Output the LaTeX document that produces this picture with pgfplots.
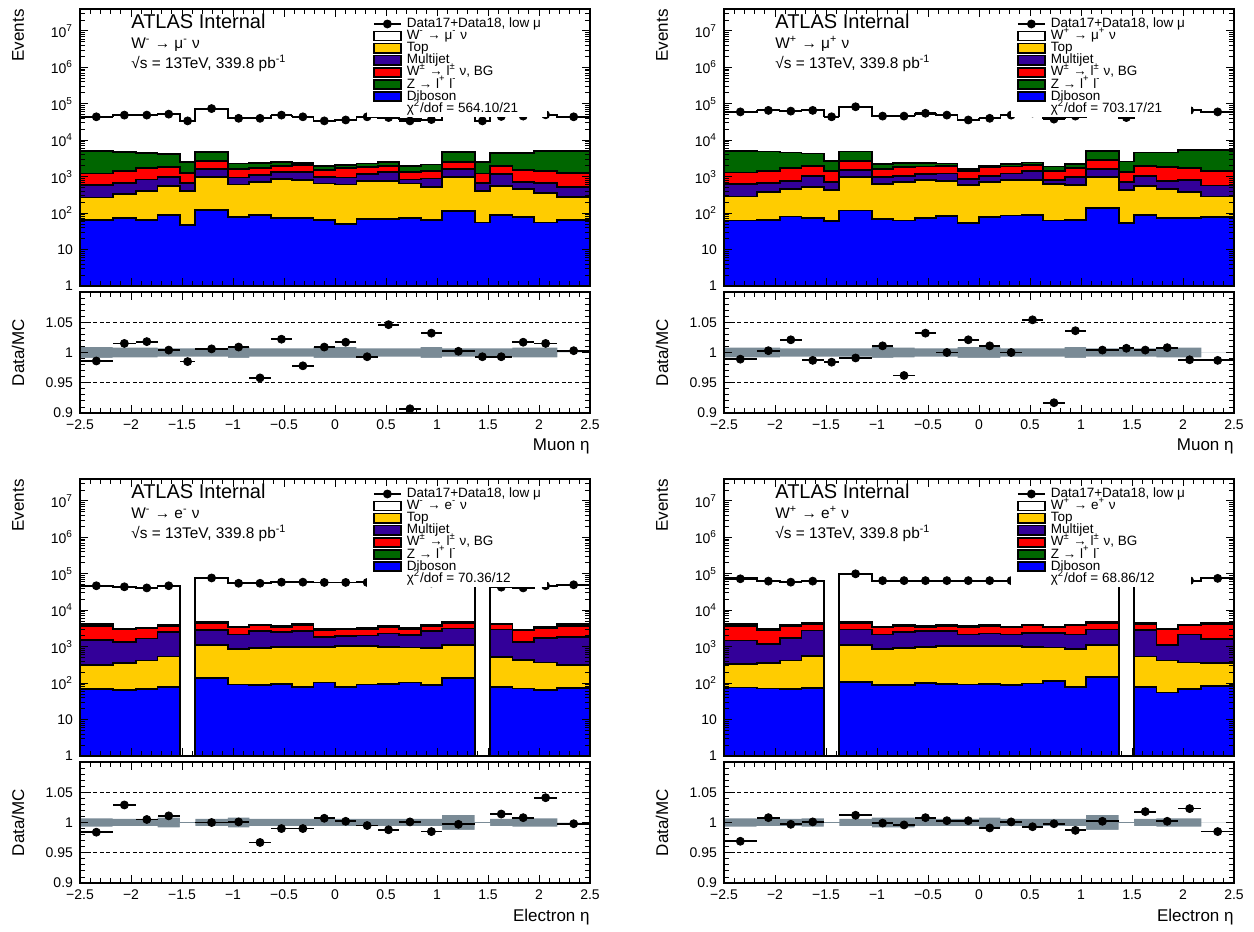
\documentclass[border=0pt]{standalone}
\usepackage{fontspec}
\setmainfont{Liberation Sans}
\usepackage{pgfplots}
\pgfplotsset{compat=1.18}
\usepackage{pgfplotstable}

\definecolor{topc}{RGB}{255,204,0}
\definecolor{mjc}{RGB}{51,0,153}
\definecolor{wbgc}{RGB}{255,0,0}
\definecolor{zc}{RGB}{0,102,0}
\definecolor{dbc}{RGB}{0,0,255}
\definecolor{bandc}{RGB}{122,139,150}

% ---------- W- -> mu- nu ----------
\pgfplotstableread{
x tot z wbg mj top db bw
-2.50 44600 5130 1230 590 270 65 0.009
-2.18 48300 4800 1450 680 334 72 0.008
-1.95 48100 4360 1690 840 410 65 0.008
-1.74 51800 4170 1870 1000 550 88 0.007
-1.52 34500 2560 1290 680 410 47 0.007
-1.37 73600 4800 2750 1590 1000 121 0.007
-1.05 39600 2300 1590 955 614 80 0.009
-0.84 41800 2400 1760 1100 730 88 0.007
-0.63 47900 2500 1960 1320 860 75 0.007
-0.42 45000 2400 2090 1365 810 72 0.007
-0.21 33700 2000 1520 1000 650 65 0.009
0.00 35400 2090 1690 955 614 50 0.009
0.21 44300 2300 1870 1170 780 69 0.007
0.42 40200 2560 2000 1365 780 69 0.007
0.63 37500 2000 1370 840 650 72 0.007
0.84 35900 2170 1450 890 510 65 0.009
1.05 65900 4800 2560 1590 1000 116 0.007
1.37 34200 2560 1230 680 410 55 0.007
1.52 45300 4360 1960 1170 565 88 0.007
1.74 45200 4360 1520 730 460 80 0.008
1.95 49300 5130 1450 680 360 55 0.008
2.18 43900 5130 1290 530 280 65 0
2.50 43900 5130 1290 530 280 65 0
}\hA
\pgfplotstableread{
xc ex data ratio
-2.34 0.16 44000 0.986
-2.065 0.115 49000 1.015
-1.845 0.105 49000 1.018
-1.63 0.11 52000 1.004
-1.445 0.075 34000 0.985
-1.21 0.16 74000 1.006
-0.945 0.105 40000 1.009
-0.735 0.105 40000 0.958
-0.525 0.105 49000 1.022
-0.315 0.105 44000 0.978
-0.105 0.105 34000 1.009
0.105 0.105 36000 1.017
0.315 0.105 44000 0.993
0.525 0.105 42000 1.046
0.735 0.105 34000 0.907
0.945 0.105 37000 1.032
1.21 0.16 66000 1.002
1.445 0.075 34000 0.993
1.63 0.11 45000 0.993
1.845 0.105 46000 1.017
2.065 0.115 50000 1.015
2.34 0.16 44000 1.003
}\pA

% ---------- W+ -> mu+ nu ----------
\pgfplotstableread{
x tot z wbg mj top db bw
-2.50 60700 5100 1310 630 285 63 0.008
-2.18 65800 4900 1460 658 374 66 0.008
-1.95 61700 4610 1720 780 461 81 0.007
-1.74 66900 4330 2000 1065 533 75 0.007
-1.52 44700 2730 1400 700 433 61 0.007
-1.37 83800 4900 2730 1520 960 118 0.007
-1.05 45500 2220 1620 960 630 70 0.009
-0.84 47800 2360 1800 1065 700 63 0.008
-0.63 53300 2360 1910 1180 810 73 0.007
-0.42 49000 2310 2000 1230 780 83 0.007
-0.21 35300 1620 1400 863 605 53 0.009
0.00 39600 2000 1800 1065 700 78 0.009
0.21 49000 2220 1910 1230 810 86 0.007
0.42 53100 2460 2080 1400 810 90 0.007
0.63 41400 1910 1400 810 630 63 0.007
0.84 44400 2220 1690 960 590 64 0.009
1.05 79700 5100 2910 1620 1000 140 0.007
1.37 41700 2620 1370 700 433 53 0.007
1.52 64700 4610 2000 1065 556 90 0.007
1.74 64500 4610 1800 780 452 75 0.008
1.95 66800 5450 1720 830 380 72 0.008
2.18 60800 5340 1460 570 285 78 0
2.50 60800 5340 1460 570 285 78 0
}\hB
\pgfplotstableread{
xc ex data ratio
-2.34 0.16 60000 0.989
-2.065 0.115 66000 1.003
-1.845 0.105 63000 1.021
-1.63 0.11 66000 0.987
-1.445 0.075 44000 0.984
-1.21 0.16 83000 0.991
-0.945 0.105 46000 1.011
-0.735 0.105 46000 0.962
-0.525 0.105 55000 1.032
-0.315 0.105 49000 1.000
-0.105 0.105 36000 1.021
0.105 0.105 40000 1.011
0.315 0.105 49000 1.000
0.525 0.105 56000 1.054
0.735 0.105 38000 0.917
0.945 0.105 46000 1.036
1.21 0.16 80000 1.004
1.445 0.075 42000 1.007
1.63 0.11 65000 1.004
1.845 0.105 65000 1.008
2.065 0.115 66000 0.988
2.34 0.16 60000 0.987
}\pB

% ---------- W- -> e- nu ----------
\pgfplotstableread{
x tot z wbg mj top db bw
-2.50 47800 4100 3670 1565 316 68 0.007
-2.18 42800 3150 2970 1350 352 64 0.006
-1.95 40800 3350 3160 1670 417 68 0.006
-1.74 46500 3900 3670 2550 537 79 0.008
-1.52 0.1 0.1 0.1 0.1 0.1 0.1 0
-1.37 77000 4800 4540 2840 1090 141 0.006
-1.05 54900 3600 3440 2150 861 92 0.008
-0.84 56900 4000 3830 2670 918 88 0.006
-0.63 59600 3700 3520 2500 980 94 0.006
-0.42 59600 4100 3920 2670 980 79 0.006
-0.21 57600 3000 2840 1820 980 104 0.006
0.00 57900 3100 2970 1940 1020 79 0.006
0.21 58300 3250 3090 2020 1020 92 0.006
0.42 58700 3700 3520 2300 980 96 0.006
0.63 56900 3250 3090 2065 955 104 0.006
0.84 56900 3950 3750 2670 918 88 0.006
1.05 75200 4800 4540 3160 1090 141 0.012
1.37 0.1 0.1 0.1 0.1 0.1 0.1 0
1.52 42400 4300 4080 2970 527 77 0.006
1.74 40700 2950 2780 1350 436 71 0.007
1.95 45100 3400 3160 1740 367 64 0.007
2.18 50100 4200 3670 1820 316 74 0
2.50 50100 4200 3670 1820 316 74 0
}\hC
\pgfplotstableread{
xc ex data ratio
-2.34 0.16 47000 0.984
-2.065 0.115 44000 1.029
-1.845 0.105 41000 1.005
-1.63 0.11 47000 1.011
-1.21 0.16 77000 1.000
-0.945 0.105 55000 1.001
-0.735 0.105 55000 0.967
-0.525 0.105 59000 0.990
-0.315 0.105 59000 0.990
-0.105 0.105 58000 1.007
0.105 0.105 58000 1.002
0.315 0.105 58000 0.995
0.525 0.105 58000 0.988
0.735 0.105 57000 1.001
0.945 0.105 56000 0.985
1.21 0.16 75000 0.997
1.63 0.11 43000 1.014
1.845 0.105 41000 1.008
2.065 0.115 47000 1.041
2.34 0.16 50000 0.998
}\pC

% ---------- W+ -> e+ nu ----------
\pgfplotstableread{
x tot z wbg mj top db bw
-2.50 75300 4200 3670 1470 330 76 0.007
-2.18 62500 3000 2780 1210 352 71 0.006
-1.95 59200 3850 3670 1740 417 68 0.006
-1.74 62900 4450 4260 2780 562 74 0.007
-1.52 0.1 0.1 0.1 0.1 0.1 0.1 0
-1.37 98800 4750 4540 2970 1090 109 0.006
-1.05 65100 3600 3440 2150 861 88 0.008
-0.84 65300 3850 3670 2550 918 88 0.008
-0.63 64500 3700 3520 2670 980 101 0.006
-0.42 64800 3850 3670 2670 1020 94 0.006
-0.21 64800 3700 3520 2150 1020 92 0.006
0.00 65600 3850 3670 2300 1020 94 0.008
0.21 64900 3600 3440 2150 1020 88 0.006
0.42 65500 4000 3830 2400 980 98 0.006
0.63 64100 3600 3440 2400 955 114 0.006
0.84 63800 4000 3830 2150 861 79 0.006
1.05 84800 4750 4540 2970 1140 144 0.012
1.37 0.1 0.1 0.1 0.1 0.1 0.1 0
1.52 58900 4450 4260 2840 537 79 0.006
1.74 59900 3150 2970 1140 417 55 0.007
1.95 63500 4000 3830 2150 367 68 0.007
2.18 76100 4400 4080 1630 352 84 0
2.50 76100 4400 4080 1630 352 84 0
}\hD
\pgfplotstableread{
xc ex data ratio
-2.34 0.16 73000 0.969
-2.065 0.115 63000 1.008
-1.845 0.105 59000 0.997
-1.63 0.11 63000 1.001
-1.21 0.16 100000 1.012
-0.945 0.105 65000 0.999
-0.735 0.105 65000 0.996
-0.525 0.105 65000 1.008
-0.315 0.105 65000 1.003
-0.105 0.105 65000 1.003
0.105 0.105 65000 0.991
0.315 0.105 65000 1.001
0.525 0.105 65000 0.993
0.735 0.105 64000 0.998
0.945 0.105 63000 0.987
1.21 0.16 85000 1.002
1.63 0.11 60000 1.018
1.845 0.105 60000 1.002
2.065 0.115 65000 1.023
2.34 0.16 75000 0.985
}\pD

\pgfplotsset{every axis/.append style={scale only axis, width=255pt, xmin=-2.5, xmax=2.5,
   xtick={-2.5,-2,-1.5,-1,-0.5,0,0.5,1,1.5,2,2.5}, minor x tick num=4,
   tick align=inside, axis on top,
   tick label style={font=\fontsize{7}{8}\selectfont},
   axis line style={line width=0.6pt}, tick style={black, line width=0.45pt},
   major tick length=4.2pt, minor tick length=2.4pt}}

\newcommand{\stackplot}[1]{%
 \addplot[const plot, draw=black, line width=0.9pt, forget plot, fill=white] table[x=x,y=tot]{#1} \closedcycle;
 \addplot[const plot, draw=black, line width=0.9pt, forget plot, fill=zc] table[x=x,y=z]{#1} \closedcycle;
 \addplot[const plot, draw=black, line width=0.9pt, forget plot, fill=wbgc] table[x=x,y=wbg]{#1} \closedcycle;
 \addplot[const plot, draw=black, line width=0.9pt, forget plot, fill=mjc] table[x=x,y=mj]{#1} \closedcycle;
 \addplot[const plot, draw=black, line width=0.9pt, forget plot, fill=topc] table[x=x,y=top]{#1} \closedcycle;
 \addplot[const plot, draw=black, line width=0.9pt, forget plot, fill=dbc] table[x=x,y=db]{#1} \closedcycle;
}
\newcommand{\datapoints}[2]{%
 \addplot[forget plot, only marks, mark=*, mark size=2pt, black, mark options={fill=black},
   error bars/.cd, x dir=both, x explicit, error mark=none,
   error bar style={line width=0.9pt, black}] table[x=xc, y=#2, x error=ex]{#1};
}
\newcommand{\legbox}[2]{%
 \addlegendimage{legend image code/.code={\draw[black, fill=#1, line width=0.8pt] (0pt,-2.3pt) rectangle (13.5pt,2.3pt);}}
 \addlegendentry{#2}
}
\newcommand{\legtext}[2]{%
 \node[anchor=base west, font=\fontsize{10}{12}\selectfont, inner sep=0pt] at (rel axis cs:0.1,0.928) {ATLAS Internal};
 \node[anchor=base west, font=\fontsize{7.7}{9}\selectfont, inner sep=0pt] at (rel axis cs:0.1,0.859) {#1};
 \node[anchor=base west, font=\fontsize{7.7}{9}\selectfont, inner sep=0pt] at (rel axis cs:0.1,0.787) {√s = 13TeV, 339.8 pb\textsuperscript{-1}};
 \addlegendimage{legend image code/.code={\draw[black, line width=0.9pt] (0pt,0pt) -- (13.5pt,0pt); \fill[black] (6.75pt,0pt) circle (2pt);}}
 \addlegendentry{Data17+Data18, low μ}
 \legbox{white}{#1}
 \legbox{topc}{Top}
 \legbox{mjc}{Multijet}
 \legbox{wbgc}{W\textsuperscript{±} → l\textsuperscript{±} ν, BG}
 \legbox{zc}{Z → l\textsuperscript{+} l\textsuperscript{-}}
 \legbox{dbc}{Diboson}
 \addlegendimage{empty legend}
 \addlegendentry{χ\textsuperscript{2}/dof = #2}
}
\newcommand{\ratioplots}[2]{%
 \addplot[const plot, fill=bandc, draw=none, forget plot] table[x=x, y expr=1+\thisrow{bw}]{#1} \closedcycle;
 \addplot[const plot, fill=white, draw=none, forget plot] table[x=x, y expr=1-\thisrow{bw}]{#1} \closedcycle;
 \addplot[bandc, line width=0.4pt, forget plot] coordinates {(-2.5,1) (2.18,1)};
 \addplot[black, line width=0.7pt, dash pattern=on 2pt off 1.3pt, forget plot] coordinates {(-2.5,0.95) (2.5,0.95)};
 \addplot[black, line width=0.7pt, dash pattern=on 2pt off 1.3pt, forget plot] coordinates {(-2.5,1.05) (2.5,1.05)};
 \datapoints{#2}{ratio}
}

\begin{document}
\begin{tikzpicture}
\path[use as bounding box] (0pt,0pt) rectangle (627pt,-466pt);

% ================= top-left =================
\begin{axis}[at={(40pt,-4.5pt)}, anchor=north west, height=138.5pt,
   ymode=log, ymin=1, ymax=4e7, xticklabels={},
   ytick={1,10,100,1000,10000,100000,1000000,10000000},
   yticklabels={1,10,10\textsuperscript{2},10\textsuperscript{3},10\textsuperscript{4},10\textsuperscript{5},10\textsuperscript{6},10\textsuperscript{7}},
   minor ytick={2,3,4,5,6,7,8,9,20,30,40,50,60,70,80,90,200,300,400,500,600,700,800,900,2000,3000,4000,5000,6000,7000,8000,9000,20000,30000,40000,50000,60000,70000,80000,90000,200000,300000,400000,500000,600000,700000,800000,900000,2000000,3000000,4000000,5000000,6000000,7000000,8000000,9000000,20000000,30000000},
   ylabel={Events}, ylabel style={at={(axis description cs:-0.1216,1)}, anchor=east, inner sep=0pt, font=\fontsize{8.5}{10}\selectfont},
   legend style={at={(rel axis cs:0.5627,0.975)}, anchor=north west, draw=none, fill=white,
     font=\fontsize{6.75}{7}\selectfont, inner xsep=3pt, inner ysep=1pt, outer sep=0pt, row sep=0pt, column sep=2.5pt,
     nodes={inner sep=0pt, text height=4.8pt, text depth=1.25pt}},
   legend cell align=left]
\stackplot{\hA}
\datapoints{\pA}{data}
\legtext{W\textsuperscript{-} → μ\textsuperscript{-} ν}{564.10/21}
\end{axis}
\begin{axis}[at={(40pt,-146pt)}, anchor=north west, height=60.5pt, ymin=0.9, ymax=1.1,
   ytick={0.9,0.95,1,1.05,1.1}, yticklabels={0.9,0.95,1,1.05,{}}, minor y tick num=4,
   xticklabels={−2.5,−2,−1.5,−1,−0.5,0,0.5,1,1.5,2,2.5},
   ylabel={Data/MC}, ylabel style={at={(axis description cs:-0.1216,0.5)}, anchor=center, inner sep=0pt, font=\fontsize{8.5}{10}\selectfont},
   xlabel={Muon η}, xlabel style={at={(axis description cs:1,-0.28)}, anchor=east, inner sep=0pt, font=\fontsize{8.5}{10}\selectfont}]
\ratioplots{\hA}{\pA}
\end{axis}

% ================= top-right =================
\begin{axis}[at={(362pt,-4.5pt)}, anchor=north west, height=138.5pt,
   ymode=log, ymin=1, ymax=4e7, xticklabels={},
   ytick={1,10,100,1000,10000,100000,1000000,10000000},
   yticklabels={1,10,10\textsuperscript{2},10\textsuperscript{3},10\textsuperscript{4},10\textsuperscript{5},10\textsuperscript{6},10\textsuperscript{7}},
   minor ytick={2,3,4,5,6,7,8,9,20,30,40,50,60,70,80,90,200,300,400,500,600,700,800,900,2000,3000,4000,5000,6000,7000,8000,9000,20000,30000,40000,50000,60000,70000,80000,90000,200000,300000,400000,500000,600000,700000,800000,900000,2000000,3000000,4000000,5000000,6000000,7000000,8000000,9000000,20000000,30000000},
   ylabel={Events}, ylabel style={at={(axis description cs:-0.1216,1)}, anchor=east, inner sep=0pt, font=\fontsize{8.5}{10}\selectfont},
   legend style={at={(rel axis cs:0.5627,0.975)}, anchor=north west, draw=none, fill=white,
     font=\fontsize{6.75}{7}\selectfont, inner xsep=3pt, inner ysep=1pt, outer sep=0pt, row sep=0pt, column sep=2.5pt,
     nodes={inner sep=0pt, text height=4.8pt, text depth=1.25pt}},
   legend cell align=left]
\stackplot{\hB}
\datapoints{\pB}{data}
\legtext{W\textsuperscript{+} → μ\textsuperscript{+} ν}{703.17/21}
\end{axis}
\begin{axis}[at={(362pt,-146pt)}, anchor=north west, height=60.5pt, ymin=0.9, ymax=1.1,
   ytick={0.9,0.95,1,1.05,1.1}, yticklabels={0.9,0.95,1,1.05,{}}, minor y tick num=4,
   xticklabels={−2.5,−2,−1.5,−1,−0.5,0,0.5,1,1.5,2,2.5},
   ylabel={Data/MC}, ylabel style={at={(axis description cs:-0.1216,0.5)}, anchor=center, inner sep=0pt, font=\fontsize{8.5}{10}\selectfont},
   xlabel={Muon η}, xlabel style={at={(axis description cs:1,-0.28)}, anchor=east, inner sep=0pt, font=\fontsize{8.5}{10}\selectfont}]
\ratioplots{\hB}{\pB}
\end{axis}

% ================= bottom-left =================
\begin{axis}[at={(40pt,-239.5pt)}, anchor=north west, height=138.5pt,
   ymode=log, ymin=1, ymax=4e7, xticklabels={},
   ytick={1,10,100,1000,10000,100000,1000000,10000000},
   yticklabels={1,10,10\textsuperscript{2},10\textsuperscript{3},10\textsuperscript{4},10\textsuperscript{5},10\textsuperscript{6},10\textsuperscript{7}},
   minor ytick={2,3,4,5,6,7,8,9,20,30,40,50,60,70,80,90,200,300,400,500,600,700,800,900,2000,3000,4000,5000,6000,7000,8000,9000,20000,30000,40000,50000,60000,70000,80000,90000,200000,300000,400000,500000,600000,700000,800000,900000,2000000,3000000,4000000,5000000,6000000,7000000,8000000,9000000,20000000,30000000},
   ylabel={Events}, ylabel style={at={(axis description cs:-0.1216,1)}, anchor=east, inner sep=0pt, font=\fontsize{8.5}{10}\selectfont},
   legend style={at={(rel axis cs:0.5627,0.975)}, anchor=north west, draw=none, fill=white,
     font=\fontsize{6.75}{7}\selectfont, inner xsep=3pt, inner ysep=1pt, outer sep=0pt, row sep=0pt, column sep=2.5pt,
     nodes={inner sep=0pt, text height=4.8pt, text depth=1.25pt}},
   legend cell align=left]
\stackplot{\hC}
\datapoints{\pC}{data}
\legtext{W\textsuperscript{-} → e\textsuperscript{-} ν}{70.36/12}
\end{axis}
\begin{axis}[at={(40pt,-381pt)}, anchor=north west, height=60.5pt, ymin=0.9, ymax=1.1,
   ytick={0.9,0.95,1,1.05,1.1}, yticklabels={0.9,0.95,1,1.05,{}}, minor y tick num=4,
   xticklabels={−2.5,−2,−1.5,−1,−0.5,0,0.5,1,1.5,2,2.5},
   ylabel={Data/MC}, ylabel style={at={(axis description cs:-0.1216,0.5)}, anchor=center, inner sep=0pt, font=\fontsize{8.5}{10}\selectfont},
   xlabel={Electron η}, xlabel style={at={(axis description cs:1,-0.28)}, anchor=east, inner sep=0pt, font=\fontsize{8.5}{10}\selectfont}]
\ratioplots{\hC}{\pC}
\end{axis}

% ================= bottom-right =================
\begin{axis}[at={(362pt,-239.5pt)}, anchor=north west, height=138.5pt,
   ymode=log, ymin=1, ymax=4e7, xticklabels={},
   ytick={1,10,100,1000,10000,100000,1000000,10000000},
   yticklabels={1,10,10\textsuperscript{2},10\textsuperscript{3},10\textsuperscript{4},10\textsuperscript{5},10\textsuperscript{6},10\textsuperscript{7}},
   minor ytick={2,3,4,5,6,7,8,9,20,30,40,50,60,70,80,90,200,300,400,500,600,700,800,900,2000,3000,4000,5000,6000,7000,8000,9000,20000,30000,40000,50000,60000,70000,80000,90000,200000,300000,400000,500000,600000,700000,800000,900000,2000000,3000000,4000000,5000000,6000000,7000000,8000000,9000000,20000000,30000000},
   ylabel={Events}, ylabel style={at={(axis description cs:-0.1216,1)}, anchor=east, inner sep=0pt, font=\fontsize{8.5}{10}\selectfont},
   legend style={at={(rel axis cs:0.5627,0.975)}, anchor=north west, draw=none, fill=white,
     font=\fontsize{6.75}{7}\selectfont, inner xsep=3pt, inner ysep=1pt, outer sep=0pt, row sep=0pt, column sep=2.5pt,
     nodes={inner sep=0pt, text height=4.8pt, text depth=1.25pt}},
   legend cell align=left]
\stackplot{\hD}
\datapoints{\pD}{data}
\legtext{W\textsuperscript{+} → e\textsuperscript{+} ν}{68.86/12}
\end{axis}
\begin{axis}[at={(362pt,-381pt)}, anchor=north west, height=60.5pt, ymin=0.9, ymax=1.1,
   ytick={0.9,0.95,1,1.05,1.1}, yticklabels={0.9,0.95,1,1.05,{}}, minor y tick num=4,
   xticklabels={−2.5,−2,−1.5,−1,−0.5,0,0.5,1,1.5,2,2.5},
   ylabel={Data/MC}, ylabel style={at={(axis description cs:-0.1216,0.5)}, anchor=center, inner sep=0pt, font=\fontsize{8.5}{10}\selectfont},
   xlabel={Electron η}, xlabel style={at={(axis description cs:1,-0.28)}, anchor=east, inner sep=0pt, font=\fontsize{8.5}{10}\selectfont}]
\ratioplots{\hD}{\pD}
\end{axis}
\end{tikzpicture}
\end{document}
